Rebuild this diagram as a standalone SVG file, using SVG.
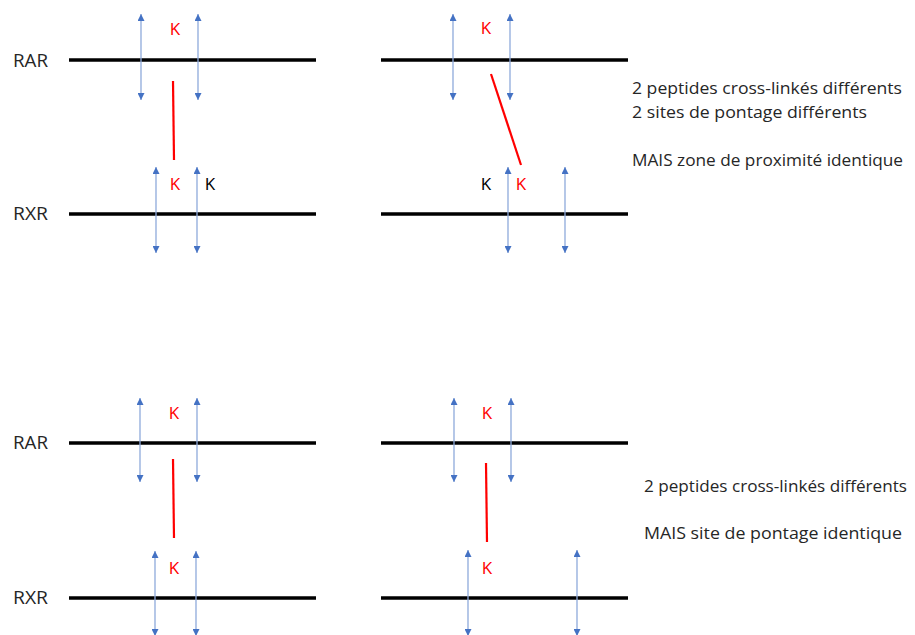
<svg xmlns="http://www.w3.org/2000/svg" width="915" height="635" viewBox="0 0 915 635">
<style>
.bar{stroke:#000;stroke-width:3.5;fill:none}
.arr{stroke:#8eaadb;stroke-width:1.3;fill:none;marker-start:url(#ah);marker-end:url(#ah)}
.xl{stroke:#ff0000;stroke-width:2.2;fill:none}
.lbl{font-family:"Open Sans","Liberation Sans",sans-serif;font-size:17.5px;fill:#262626}
.kr{font-family:"Open Sans","Liberation Sans",sans-serif;font-size:17px;fill:#ff0000;text-anchor:middle}
.kb{font-family:"Open Sans","Liberation Sans",sans-serif;font-size:17px;fill:#000;text-anchor:middle}
.note{font-family:"Open Sans","Liberation Sans",sans-serif;font-size:17px;fill:#262626}
</style>
<defs>
<marker id="ah" viewBox="0 0 7 7" refX="7" refY="3.5" markerWidth="7" markerHeight="7" markerUnits="userSpaceOnUse" orient="auto-start-reverse">
<path d="M0,0 L7,3.5 L0,7 z" fill="#4472c4"/>
</marker>
</defs>
<rect width="915" height="635" fill="#fff"/>

<g id="labels">
<text class="lbl" x="13" y="67" textLength="35" lengthAdjust="spacingAndGlyphs">RAR</text>
<text class="lbl" x="13" y="220" textLength="35" lengthAdjust="spacingAndGlyphs">RXR</text>
<text class="lbl" x="13" y="449" textLength="35" lengthAdjust="spacingAndGlyphs">RAR</text>
<text class="lbl" x="13" y="604" textLength="35" lengthAdjust="spacingAndGlyphs">RXR</text>
</g>

<g id="rar-top-left"><line class="bar" x1="69" y1="60" x2="316" y2="60"/></g>
<g id="rxr-top-left"><line class="bar" x1="69" y1="214" x2="316" y2="214"/></g>
<g id="rar-top-right"><line class="bar" x1="381" y1="60" x2="628" y2="60"/></g>
<g id="rxr-top-right"><line class="bar" x1="381" y1="214" x2="628" y2="214"/></g>
<g id="rar-bottom-left"><line class="bar" x1="69" y1="443" x2="316" y2="443"/></g>
<g id="rxr-bottom-left"><line class="bar" x1="69" y1="598" x2="316" y2="598"/></g>
<g id="rar-bottom-right"><line class="bar" x1="381" y1="443" x2="628" y2="443"/></g>
<g id="rxr-bottom-right"><line class="bar" x1="381" y1="598" x2="628" y2="598"/></g>

<g id="connectors">
<line class="arr" x1="141" y1="14" x2="141" y2="100"/>
<line class="arr" x1="198" y1="14" x2="198" y2="100"/>
<line class="arr" x1="156" y1="167" x2="156" y2="253"/>
<line class="arr" x1="197" y1="167" x2="197" y2="253"/>
<line class="arr" x1="453" y1="14" x2="453" y2="100"/>
<line class="arr" x1="510" y1="14" x2="510" y2="100"/>
<line class="arr" x1="508" y1="167" x2="508" y2="253"/>
<line class="arr" x1="565" y1="167" x2="565" y2="253"/>
<line class="arr" x1="140" y1="398" x2="140" y2="482"/>
<line class="arr" x1="197" y1="398" x2="197" y2="482"/>
<line class="arr" x1="155" y1="551" x2="155" y2="636"/>
<line class="arr" x1="196" y1="551" x2="196" y2="636"/>
<line class="arr" x1="454" y1="398" x2="454" y2="482"/>
<line class="arr" x1="511" y1="398" x2="511" y2="482"/>
<line class="arr" x1="468" y1="550" x2="468" y2="636"/>
<line class="arr" x1="577" y1="550" x2="577" y2="636"/>
<line class="xl" x1="173" y1="81" x2="174" y2="160"/>
<line class="xl" x1="491" y1="74" x2="521" y2="165"/>
<line class="xl" x1="173" y1="459" x2="174" y2="538"/>
<line class="xl" x1="486" y1="463" x2="487" y2="542"/>
</g>

<g id="k-labels">
<text class="kr" x="175" y="35">K</text>
<text class="kr" x="175" y="190">K</text>
<text class="kb" x="210" y="190">K</text>
<text class="kr" x="486" y="34">K</text>
<text class="kb" x="486" y="190">K</text>
<text class="kr" x="521" y="190">K</text>
<text class="kr" x="174" y="419">K</text>
<text class="kr" x="174" y="574">K</text>
<text class="kr" x="487" y="419">K</text>
<text class="kr" x="487" y="574">K</text>
</g>

<g id="note-top">
<text class="note" x="632" y="94" textLength="270" lengthAdjust="spacingAndGlyphs">2 peptides cross-linkés différents</text>
<text class="note" x="632" y="118" textLength="235" lengthAdjust="spacingAndGlyphs">2 sites de pontage différents</text>
<text class="note" x="632" y="166" textLength="271" lengthAdjust="spacingAndGlyphs">MAIS zone de proximité identique</text>
</g>
<g id="note-bottom">
<text class="note" x="644" y="492" textLength="263" lengthAdjust="spacingAndGlyphs">2 peptides cross-linkés différents</text>
<text class="note" x="644" y="539" textLength="258" lengthAdjust="spacingAndGlyphs">MAIS site de pontage identique</text>
</g>
</svg>
